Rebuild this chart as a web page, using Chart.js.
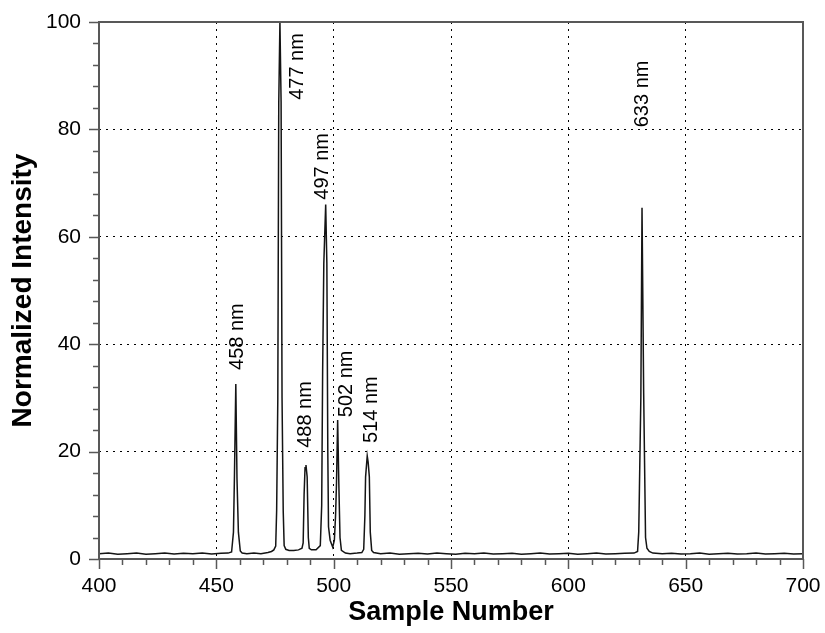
<!DOCTYPE html>
<html>
<head>
<meta charset="utf-8">
<script src="https://cdn.jsdelivr.net/npm/chart.js@4"></script>
<style>
  body { margin: 0; background: #fff; }
</style>
</head>
<body>
<canvas id="spectrum" width="825" height="633"></canvas>
<script>
// spectrum (sample number, normalized intensity)
const sampleNumber = [
  400, 404, 408, 412, 416, 420, 424, 428, 432, 436, 440, 444, 448, 452, 455,
  456.5, 457.3, 457.7, 458.3, 458.8, 459.4, 460.2, 461,
  463, 466, 469, 472, 473.5,
  474.5, 475.3, 475.7, 476.2, 476.6, 477.1, 477.6, 478.0, 478.5, 478.9, 479.6,
  481, 483, 485, 486.5,
  487.0, 487.4, 487.8, 488.2, 488.7, 489.2, 489.6,
  490.5, 492.5,
  494.3, 494.9, 495.3, 495.8, 496.6, 497.1, 497.5, 497.8, 498.5,
  499.6,
  500.3, 500.8, 501.2, 501.7, 502.2, 502.7, 503.3,
  505, 507, 510, 512,
  512.8, 513.3, 513.6, 514.3, 514.7, 515.2, 515.6, 516.2,
  517, 520, 524, 528, 532, 536, 540, 544, 548, 552, 556, 560, 564, 568, 572,
  576, 580, 584, 588, 592, 596, 600, 604, 608, 612, 616, 620, 624, 628,
  629.5, 630, 630.3, 630.9, 631.4, 631.7, 632.1, 632.6, 632.9, 633.5, 634.5,
  636, 640, 644, 648, 652, 656, 660, 664, 668, 672, 676, 680, 684, 688, 692,
  696, 700
];
const intensity = [
  1.0, 1.1, 0.9, 1.0, 1.1, 0.9, 1.0, 1.1, 0.95, 1.05, 1.0, 1.1, 0.95, 1.05, 1.1,
  1.3, 5, 15, 32.6, 15, 5, 1.5, 1.1,
  1.0, 1.1, 1.0, 1.2, 1.4,
  1.7, 2.4, 9, 30, 85, 100, 85, 30, 9, 2.5, 1.8,
  1.6, 1.6, 1.7, 2.0,
  3, 12, 17, 17.5, 15.3, 4, 2.0,
  1.7, 1.7,
  2.5, 10, 35, 55, 66, 55, 20, 6, 3.5,
  2.2,
  3.5, 8, 14, 25.9, 14, 4, 1.6,
  1.1, 1.0, 1.1, 1.2,
  1.8, 8, 15.3, 19.2, 18, 15.3, 5, 1.6,
  1.2, 1.0, 1.1, 0.9, 1.0, 1.05, 0.95, 1.1, 1.0, 0.9, 1.05, 1.0, 1.1, 0.95, 1.0,
  1.05, 0.9, 1.0, 1.1, 0.95, 1.0, 1.05, 0.9, 1.0, 1.1, 0.95, 1.0, 1.05, 1.1,
  1.4, 5, 13.2, 30, 65.4, 65.4, 31, 14, 4, 2, 1.4,
  1.1, 1.0, 1.05, 0.95, 1.0, 1.1, 0.9, 1.0, 1.05, 0.95, 1.0, 1.1, 0.95, 1.0, 1.05,
  0.95, 1.0
];

// peak annotations: text starts at (labelSample, labelIntensity) and reads upward
const peakLabels = ["458 nm", "477 nm", "488 nm", "497 nm", "502 nm", "514 nm", "633 nm"];
const labelSample = [458.9, 484.4, 487.8, 495.4, 505.6, 516.3, 631.6];
const labelIntensity = [35.2, 85.5, 20.7, 66.9, 26.4, 21.6, 80.4];

const xMin = 400, xMax = 700, xMajor = 50, xMinor = 10;
const yMin = 0, yMax = 100, yMajor = 20, yMinor = 4;

const FONT = "'Liberation Sans', Arial, sans-serif";
const FRAME = "#585858";

// frame, tick marks and peak labels
const decorPlugin = {
  id: "decor",
  afterDraw(chart) {
    const { ctx, chartArea: a, scales } = chart;
    const x = scales.x, y = scales.y;
    ctx.save();

    // tick marks outside the box
    ctx.strokeStyle = FRAME;
    ctx.lineWidth = 1.5;
    ctx.beginPath();
    for (let v = xMin; v <= xMax; v += xMinor) {
      const px = Math.round(x.getPixelForValue(v)) + 0.5;
      const len = v % xMajor === 0 ? 10 : 6;
      ctx.moveTo(px, a.bottom);
      ctx.lineTo(px, a.bottom + len);
    }
    for (let v = yMin; v <= yMax; v += yMinor) {
      const py = Math.round(y.getPixelForValue(v)) + 0.5;
      const len = v % yMajor === 0 ? 10 : 6;
      ctx.moveTo(a.left, py);
      ctx.lineTo(a.left - len, py);
    }
    ctx.stroke();

    // box
    ctx.lineWidth = 2;
    ctx.strokeRect(a.left, a.top, a.right - a.left, a.bottom - a.top);

    // labels
    ctx.fillStyle = "#000";
    ctx.font = "20px " + FONT;
    ctx.textAlign = "left";
    ctx.textBaseline = "middle";
    peakLabels.forEach((t, i) => {
      const px = x.getPixelForValue(labelSample[i]);
      const py = y.getPixelForValue(labelIntensity[i]);
      ctx.save();
      ctx.translate(px, py);
      ctx.rotate(-Math.PI / 2);
      ctx.fillText(t, 0, 0);
      ctx.restore();
    });
    ctx.restore();
  }
};

// keep the label overflow from pushing the plot box inward
function noOverflow(s) {
  s.paddingTop = 0;
  s.paddingBottom = 0;
  s.paddingLeft = 0;
  s.paddingRight = 0;
}

const points = sampleNumber.map((s, i) => ({ x: s, y: intensity[i] }));

new Chart(document.getElementById("spectrum"), {
  type: "line",
  data: {
    datasets: [{
      data: points,
      borderColor: "#141414",
      borderWidth: 1.5,
      pointRadius: 0,
      tension: 0,
      fill: false
    }]
  },
  options: {
    responsive: false,
    animation: false,
    layout: { padding: { top: 22, right: 22, left: 0, bottom: 0 } },
    plugins: { legend: { display: false }, tooltip: { enabled: false } },
    scales: {
      x: {
        type: "linear",
        min: xMin,
        max: xMax,
        afterFit: s => { s.height = 74; noOverflow(s); },
        ticks: {
          stepSize: xMajor,
          color: "#000",
          font: { family: FONT, size: 21 },
          padding: 15,
          maxRotation: 0
        },
        grid: {
          drawTicks: false,
          color: c => (c.tick && c.tick.value > xMin && c.tick.value < xMax) ? "#000" : "rgba(0,0,0,0)",
          lineWidth: 1
        },
        border: { display: false, dash: [2, 5] },
        title: {
          display: true,
          text: "Sample Number",
          color: "#000",
          font: { family: FONT, size: 27, weight: "bold", lineHeight: 1 },
          padding: { bottom: 7 }
        }
      },
      y: {
        min: yMin,
        max: yMax,
        afterFit: s => { s.width = 99; noOverflow(s); },
        ticks: {
          stepSize: yMajor,
          color: "#000",
          font: { family: FONT, size: 21 },
          padding: 18
        },
        grid: {
          drawTicks: false,
          color: c => (c.tick && c.tick.value > yMin && c.tick.value < yMax) ? "#000" : "rgba(0,0,0,0)",
          lineWidth: 1
        },
        border: { display: false, dash: [2, 5] },
        title: {
          display: true,
          text: "Normalized Intensity",
          color: "#000",
          font: { family: FONT, size: 28, weight: "bold", lineHeight: 1 },
          padding: { top: 9 }
        }
      }
    }
  },
  plugins: [decorPlugin]
});
</script>
</body>
</html>
